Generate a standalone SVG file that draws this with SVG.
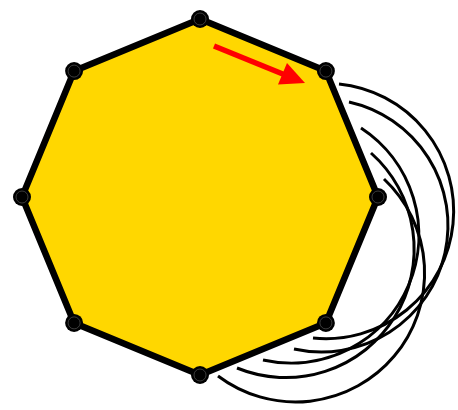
<svg xmlns="http://www.w3.org/2000/svg" width="458" height="410" viewBox="0 0 458 410">
<style>
.oct{fill:#FFD700;stroke:#000;stroke-width:6.5;stroke-linejoin:miter}
.arc{fill:none;stroke:#000;stroke-width:3}
.dot{fill:#000}
.ring{fill:none;stroke:#555;stroke-width:0.7}
.arrow{stroke:#FF0000;stroke-width:5.5;fill:none}
.head{fill:#FF0000}
</style>
<defs>
<g id="vdot"><circle class="dot" r="9"/><circle class="ring" r="6"/></g>
</defs>
<rect width="458" height="410" fill="#fff"/>
<g id="octagon">
<polygon class="oct" points="200,19 325.9,71.1 378,197 325.9,322.9 200,375 74.1,322.9 22,197 74.1,71.1"/>
</g>
<g id="connectors">
<path class="arc" d="M339,84 A127.5,127.5 0 0 1 313,338"/>
<path class="arc" d="M349,102 A126.5,126.5 0 0 1 294,349"/>
<path class="arc" d="M361,128 A128,128 0 0 1 263,360"/>
<path class="arc" d="M371,153 A128.5,128.5 0 0 1 237,368"/>
<path class="arc" d="M384,179 A129,129 0 0 1 218,376"/>
</g>
<g id="vertices">
<use href="#vdot" x="200" y="19"/>
<use href="#vdot" x="325.9" y="71.1"/>
<use href="#vdot" x="378" y="197"/>
<use href="#vdot" x="325.9" y="322.9"/>
<use href="#vdot" x="200" y="375"/>
<use href="#vdot" x="74.1" y="322.9"/>
<use href="#vdot" x="22" y="197"/>
<use href="#vdot" x="74.1" y="71.1"/>
</g>
<g id="arrow">
<line class="arrow" x1="214" y1="46" x2="284" y2="74.5"/>
<polygon class="head" points="305,83 278,84.5 287,63"/>
</g>
</svg>
